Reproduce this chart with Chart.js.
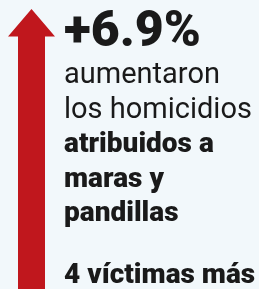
<!DOCTYPE html>
<html>
<head>
<meta charset="utf-8">
<script src="https://cdn.jsdelivr.net/npm/chart.js@4/dist/chart.umd.min.js"></script>
<style>
html,body{margin:0;padding:0;background:#f2f8fb;}
#wrap{width:259px;height:289px;position:relative;}
</style>
</head>
<body>
<div id="wrap"><canvas id="c" width="259" height="289"></canvas></div>
<script>
const changePct = [6.9];
const extraVictims = [4];
const headlineLines = [
  {text: "aumentaron", bold: false},
  {text: "los homicidios", bold: false},
  {text: "atribuidos a", bold: true},
  {text: "maras y", bold: true},
  {text: "pandillas", bold: true}
];
const victimsLabel = "víctimas más";

const arrowPlugin = {
  id: 'arrowText',
  beforeDraw(chart) {
    const ctx = chart.ctx;
    ctx.save();
    ctx.fillStyle = '#f2f8fb';
    ctx.fillRect(0, 0, chart.width, chart.height);
    // arrow
    ctx.fillStyle = '#c0171d';
    ctx.beginPath();
    ctx.moveTo(31.5, 9);
    ctx.lineTo(55, 36.5);
    ctx.lineTo(45, 36.5);
    ctx.lineTo(45, chart.height);
    ctx.lineTo(18, chart.height);
    ctx.lineTo(18, 36.5);
    ctx.lineTo(8, 36.5);
    ctx.closePath();
    ctx.fill();
    // text
    ctx.fillStyle = '#1a1a1a';
    ctx.textBaseline = 'alphabetic';
    ctx.textAlign = 'left';
    ctx.font = '900 50px Roboto';
    ctx.fillText('+' + changePct[0].toFixed(1) + '%', 64, 46);
    let y = 83;
    headlineLines.forEach(l => {
      ctx.font = (l.bold ? '900 28px' : '400 29px') + ' Roboto';
      ctx.fillText(l.text, 64, y);
      y += 34.6;
    });
    ctx.font = '900 28px Roboto';
    ctx.fillText(extraVictims[0] + ' ' + victimsLabel, 64, 283);
    ctx.restore();
  }
};

new Chart(document.getElementById('c'), {
  type: 'bar',
  data: { labels: [''], datasets: [{ data: [0], backgroundColor: 'rgba(0,0,0,0)' }] },
  options: {
    responsive: false,
    animation: false,
    events: [],
    plugins: { legend: { display: false }, tooltip: { enabled: false } },
    scales: { x: { display: false }, y: { display: false } }
  },
  plugins: [arrowPlugin]
});
</script>
</body>
</html>
